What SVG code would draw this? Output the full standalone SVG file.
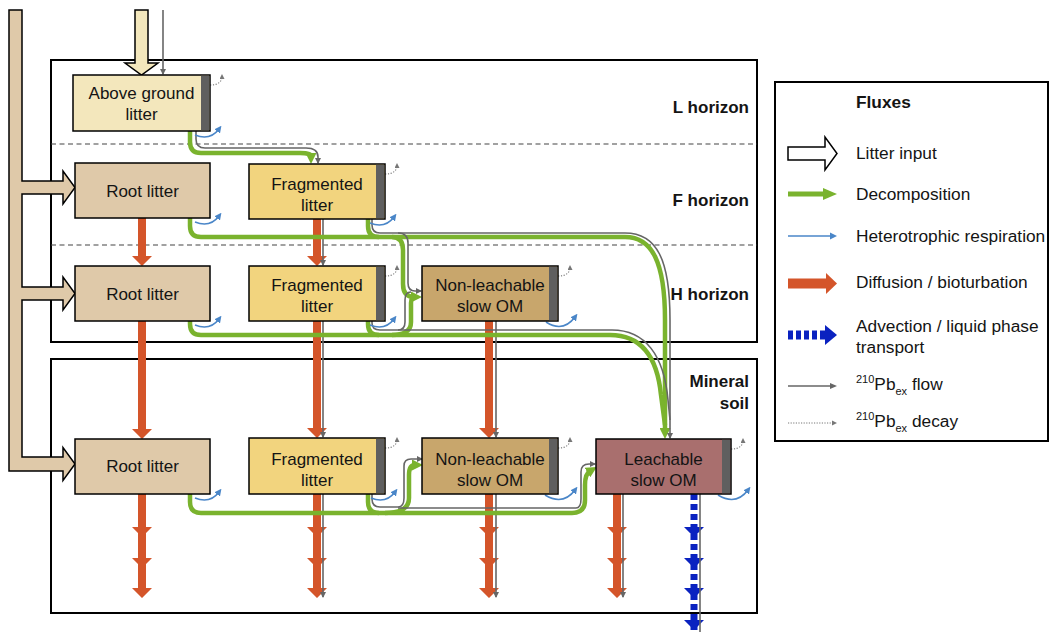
<svg xmlns="http://www.w3.org/2000/svg" width="1049" height="632" viewBox="0 0 1049 632">
<defs>
<style>
text{font-family:"Liberation Sans",Arial,sans-serif;fill:#141414}
.n{font-size:17px;text-anchor:middle}
.h{font-size:17px;font-weight:bold;text-anchor:end}
.lg{font-size:17.3px}
.frame{fill:none;stroke:#000;stroke-width:2}
.dash{stroke:#444;stroke-width:1.2;stroke-dasharray:5 3.5;fill:none}
.box{stroke:#000;stroke-width:1.5}
.strip{fill:#5f5f5f}
.g{fill:none;stroke:#7ab32e;stroke-width:4.5;stroke-linejoin:round}
.gy{fill:none;stroke:#666;stroke-width:1.6}
.resp{fill:none;stroke:#4a86c8;stroke-width:1.6}
.dec{fill:none;stroke:#777;stroke-width:1.1;stroke-dasharray:1.2 1.6}
.dif{fill:#d4552a}
.adv{fill:#0a22c0}
.advl{stroke:#0a22c0;stroke-width:7;stroke-dasharray:6 4;fill:none}
.lit{fill:#dfc9a9;stroke:#000;stroke-width:1.5}
</style>
<marker id="mg" markerUnits="userSpaceOnUse" markerWidth="11" markerHeight="11" viewBox="0 0 11 11" refX="3" refY="5.5" orient="auto"><path d="M0,0L11,5.5L0,11z" fill="#7ab32e"/></marker>
<marker id="my" markerUnits="userSpaceOnUse" markerWidth="6" markerHeight="6" viewBox="0 0 6 6" refX="5" refY="3" orient="auto"><path d="M0,0L6,3L0,6z" fill="#666"/></marker>
<marker id="mb" markerUnits="userSpaceOnUse" markerWidth="7" markerHeight="7" viewBox="0 0 7 7" refX="3" refY="3.5" orient="auto"><path d="M0,0L7,3.5L0,7z" fill="#4a86c8"/></marker>
<marker id="md" markerUnits="userSpaceOnUse" markerWidth="5" markerHeight="5" viewBox="0 0 5 5" refX="3" refY="2.5" orient="auto"><path d="M0,0L5,2.5L0,5z" fill="#777"/></marker>
</defs>
<rect width="1049" height="632" fill="#fff"/>

<g id="frames">
<rect class="frame" x="51" y="60" width="706" height="282"/>
<rect class="frame" x="51" y="359" width="706" height="254"/>
<path class="dash" d="M51,144H757M51,245H757"/>
<text class="h" x="749" y="113">L horizon</text>
<text class="h" x="749" y="206">F horizon</text>
<text class="h" x="749" y="300">H horizon</text>
<text class="h" x="749" y="387">Mineral</text>
<text class="h" x="749" y="409">soil</text>
</g>

<g id="litter-inputs">
<path class="lit" d="M9,10H22V181H63V171L75,187.5L63,204V194H22V287H63V277L75,293.5L63,310V300H22V457H63V447.5L75,464L63,480.5V471H9Z"/>
<path d="M135,10H148V63H158L141.5,75L125,63H135Z" fill="#f3e7bc" stroke="#000" stroke-width="1.5"/>
</g>

<g id="connectors">
<g class="dif">
<path d="M138,218H146V256H152L142,266L132,256H138Z"/>
<path d="M138,321H146V429H152L142,439L132,429H138Z"/>
<path d="M138,494H146V588H152L142,598L132,588H138Z M132,527H152L142,537Z M132,558H152L142,568Z"/>
<path d="M313,219H321V256H327L317,266L307,256H313Z"/>
<path d="M313,321H321V428H327L317,438L307,428H313Z"/>
<path d="M313,494H321V588H327L317,598L307,588H313Z M307,527H327L317,537Z M307,558H327L317,568Z"/>
<path d="M485,321H493V428H499L489,438L479,428H485Z"/>
<path d="M485,494H493V588H499L489,598L479,588H485Z M479,527H499L489,537Z M479,558H499L489,568Z"/>
<path d="M613,494H621V588H627L617,598L607,588H613Z M607,527H627L617,537Z M607,558H627L617,568Z"/>
</g>
<path class="advl" d="M694,494V632"/>
<path class="adv" d="M684,527H704L694,537Z M684,558H704L694,568Z M684,588H704L694,598Z M684,620H704L694,630Z"/>
<g class="gy">
<path d="M163,10V74" marker-end="url(#my)"/>
<path d="M323,219V265" marker-end="url(#my)"/>
<path d="M323,321V437" marker-end="url(#my)"/>
<path d="M323,494V597" marker-end="url(#my)"/>
<path d="M496,321V437" marker-end="url(#my)"/>
<path d="M496,494V597" marker-end="url(#my)"/>
<path d="M623,494V597" marker-end="url(#my)"/>
<path d="M700,494V632"/>
</g>
<g class="g">
<path d="M190,131V142Q190,153 201,153H300Q311,153 311,156" marker-end="url(#mg)"/>
<path d="M190,218V226Q190,237 201,237H625C652,237 665,262 665,320V431" marker-end="url(#mg)"/>
<path d="M368,219V226Q368,237 379,237"/>
<path d="M392,237Q403,237 403,250V284Q403,297 414,297" marker-end="url(#mg)"/>
<path d="M190,321V324Q190,335 201,335H610C640,335 657,355 661,395L665,425"/>
<path d="M368,321V324Q368,335 379,335"/>
<path d="M392,335Q411,335 411,322V303Q411,297 415,297"/>
<path d="M190,494V502Q190,513 201,513H572Q585,513 585,500V485Q585,474 590,471" marker-end="url(#mg)"/>
<path d="M368,494V502Q368,513 379,513"/>
<path d="M385,513Q409,513 409,498V475Q409,465 415,465" marker-end="url(#mg)"/>
</g>
<g class="gy">
<path d="M196,131V139Q196,148 205,148H306Q318,148 318,157V163" marker-end="url(#my)"/>
<path d="M372,219V225Q372,233 380,233H625C657,233 670,260 670,320V438" marker-end="url(#my)"/>
<path d="M398,233Q408,233 408,243V283Q408,291 415,291H421" marker-end="url(#my)"/>
<path d="M372,321V323Q372,330 380,330H612C645,330 664,355 668,400L670,420"/>
<path d="M398,330Q405,330 405,322V300Q405,292 411,292"/>
<path d="M372,494V499Q372,507 380,507H398Q404,507 404,498V466Q404,459 411,459H422" marker-end="url(#my)"/>
<path d="M398,508H576Q581,508 581,499V472Q581,464 589,464H595" marker-end="url(#my)"/>
</g>
<g class="resp">
<path d="M195,135Q210,141 219,129" marker-end="url(#mb)"/>
<path d="M195,222Q210,228 219,216" marker-end="url(#mb)"/>
<path d="M370,223Q385,229 394,217" marker-end="url(#mb)"/>
<path d="M195,325Q210,331 219,319" marker-end="url(#mb)"/>
<path d="M370,325Q385,331 394,319" marker-end="url(#mb)"/>
<path d="M546,322Q563,333 575,317" marker-end="url(#mb)"/>
<path d="M195,498Q210,504 219,492" marker-end="url(#mb)"/>
<path d="M371,498Q386,504 395,492" marker-end="url(#mb)"/>
<path d="M545,495Q563,506 575,490" marker-end="url(#mb)"/>
<path d="M718,495Q736,506 748,490" marker-end="url(#mb)"/>
</g>
<g class="dec">
<path d="M210,85Q222,85 222,76" marker-end="url(#md)"/>
<path d="M385,174Q397,174 397,165" marker-end="url(#md)"/>
<path d="M385,276Q397,276 397,267" marker-end="url(#md)"/>
<path d="M558,276Q570,276 570,267" marker-end="url(#md)"/>
<path d="M385,448Q397,448 397,439" marker-end="url(#md)"/>
<path d="M558,448Q570,448 570,439" marker-end="url(#md)"/>
<path d="M731,449Q743,449 743,440" marker-end="url(#md)"/>
</g>
</g>

<g id="above-ground-litter">
<rect class="box" x="73" y="75" width="137" height="56" fill="#f3e7bc"/>
<rect class="strip" x="201" y="75.75" width="8.25" height="54.5"/>
<text class="n" x="141.5" y="99">Above ground</text>
<text class="n" x="141.5" y="120">litter</text>
</g>
<g id="root-litter-f">
<rect class="box" x="75" y="163" width="135" height="55" fill="#dfc9a9"/>
<text class="n" x="142.5" y="197">Root litter</text>
</g>
<g id="fragmented-litter-f">
<rect class="box" x="249" y="164" width="136" height="55" fill="#f2d47e"/>
<rect class="strip" x="376" y="164.75" width="8.25" height="53.5"/>
<text class="n" x="317" y="190">Fragmented</text>
<text class="n" x="317" y="211">litter</text>
</g>
<g id="root-litter-h">
<rect class="box" x="75" y="266" width="135" height="55" fill="#dfc9a9"/>
<text class="n" x="142.5" y="300">Root litter</text>
</g>
<g id="fragmented-litter-h">
<rect class="box" x="249" y="266" width="136" height="55" fill="#f2d47e"/>
<rect class="strip" x="376" y="266.75" width="8.25" height="53.5"/>
<text class="n" x="317" y="291">Fragmented</text>
<text class="n" x="317" y="312">litter</text>
</g>
<g id="non-leachable-h">
<rect class="box" x="422" y="266" width="136" height="55" fill="#c8a66c"/>
<rect class="strip" x="549" y="266.75" width="8.25" height="53.5"/>
<text class="n" x="490" y="291">Non-leachable</text>
<text class="n" x="490" y="312">slow OM</text>
</g>
<g id="root-litter-m">
<rect class="box" x="75" y="439" width="135" height="55" fill="#dfc9a9"/>
<text class="n" x="142.5" y="472">Root litter</text>
</g>
<g id="fragmented-litter-m">
<rect class="box" x="249" y="438" width="136" height="56" fill="#f2d47e"/>
<rect class="strip" x="376" y="438.75" width="8.25" height="54.5"/>
<text class="n" x="317" y="465">Fragmented</text>
<text class="n" x="317" y="486">litter</text>
</g>
<g id="non-leachable-m">
<rect class="box" x="422" y="438" width="136" height="56" fill="#c8a66c"/>
<rect class="strip" x="549" y="438.75" width="8.25" height="54.5"/>
<text class="n" x="490" y="465">Non-leachable</text>
<text class="n" x="490" y="486">slow OM</text>
</g>
<g id="leachable-m">
<rect class="box" x="596" y="439" width="135" height="55" fill="#a96f6e"/>
<rect class="strip" x="722" y="439.75" width="8.25" height="53.5"/>
<text class="n" x="663.5" y="465">Leachable</text>
<text class="n" x="663.5" y="486">slow OM</text>
</g>

<g id="legend">
<rect x="775" y="82" width="273" height="359" fill="#fff" stroke="#000" stroke-width="2"/>
<text class="lg" x="856" y="108" font-weight="bold">Fluxes</text>
<path d="M788,147H825V137L837,153.5L825,170V160H788Z" fill="#fff" stroke="#000" stroke-width="1.5"/>
<text class="lg" x="856" y="159">Litter input</text>
<path d="M788,194H825" stroke="#7ab32e" stroke-width="5"/>
<path d="M823,188L837,194L823,200Z" fill="#7ab32e"/>
<text class="lg" x="856" y="200">Decomposition</text>
<path d="M788,236H831" stroke="#4a86c8" stroke-width="1.5"/>
<path d="M830,232.5L837,236L830,239.5Z" fill="#4a86c8"/>
<text class="lg" x="856" y="242">Heterotrophic respiration</text>
<rect x="788" y="278.5" width="39" height="10" fill="#d4552a"/>
<path d="M826,273L837,283.5L826,294Z" fill="#d4552a"/>
<text class="lg" x="856" y="288">Diffusion / bioturbation</text>
<path d="M788,335H826" stroke="#0a22c0" stroke-width="9" stroke-dasharray="5 3"/>
<path d="M825,325L837,335L825,345Z" fill="#0a22c0"/>
<text class="lg" x="856" y="332">Advection / liquid phase</text>
<text class="lg" x="856" y="353">transport</text>
<path d="M788,386H831" stroke="#666" stroke-width="1.5"/>
<path d="M830,383L837,386L830,389Z" fill="#666"/>
<text class="lg" x="856" y="390"><tspan font-size="11" dy="-7">210</tspan><tspan dy="7">Pb</tspan><tspan font-size="11" dy="5">ex</tspan><tspan dy="-5"> flow</tspan></text>
<path d="M788,423H832" stroke="#777" stroke-width="1" stroke-dasharray="1.2 1.4"/>
<path d="M832,420.5L837,423L832,425.5Z" fill="#777"/>
<text class="lg" x="856" y="427"><tspan font-size="11" dy="-7">210</tspan><tspan dy="7">Pb</tspan><tspan font-size="11" dy="5">ex</tspan><tspan dy="-5"> decay</tspan></text>
</g>
</svg>
